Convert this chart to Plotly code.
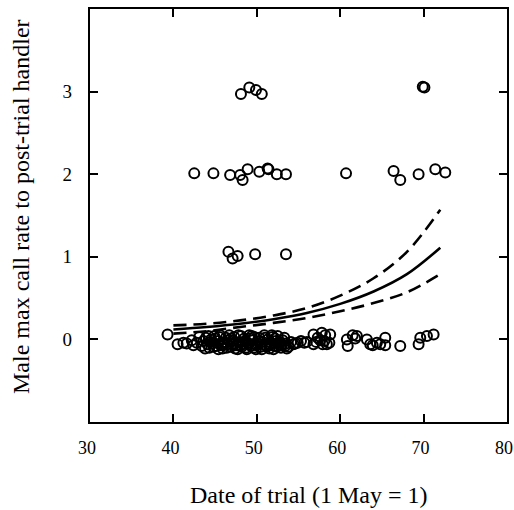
import plotly.graph_objects as go

# ---- data ----
# points near y = 3
x3 = [48.1, 49.1, 49.9, 50.6, 69.9, 70.1]
y3 = [2.97, 3.05, 3.02, 2.97, 3.06, 3.05]

# points near y = 2
x2 = [42.5, 44.8, 46.8, 48.0, 48.3, 48.9, 50.3, 51.3, 51.4, 52.4, 53.5,
      60.7, 66.4, 67.2, 69.4, 71.4, 72.6]
y2 = [2.01, 2.01, 1.99, 1.99, 1.93, 2.06, 2.03, 2.07, 2.06, 2.00, 2.00,
      2.01, 2.04, 1.93, 2.00, 2.06, 2.02]

# points near y = 1
x1 = [46.6, 47.1, 47.7, 49.8, 53.5]
y1 = [1.06, 0.98, 1.01, 1.03, 1.03]

# points near y = 0
x0 = [39.3, 40.5, 41.2, 41.6, 42.2, 42.4, 42.8, 43.1,
      43.4, 43.6, 43.9, 44.1, 44.3, 44.5, 44.7, 44.9, 45.1, 45.3, 45.5, 45.7,
      45.9, 46.1, 46.3, 46.5, 46.7, 46.9, 47.1, 47.3, 47.5, 47.7, 47.9, 48.1,
      48.3, 48.5, 48.7, 48.9, 49.1, 49.3, 49.5, 49.7, 49.9, 50.1, 50.3, 50.5,
      50.7, 50.9, 51.1, 51.3, 51.5, 51.7, 51.9, 52.1, 52.3, 52.5, 52.7, 52.9,
      53.1, 53.3, 53.5, 53.8, 54.1, 54.4,
      44.4, 45.0, 45.8, 46.6, 47.2, 48.0, 48.6, 49.2, 49.8, 50.4, 51.0, 51.6,
      52.2, 52.8, 53.4,
      43.8, 44.2, 44.8, 45.4, 45.6, 46.0, 46.4, 46.9, 47.4, 47.8, 48.2, 48.8,
      49.0, 49.4, 49.6, 50.0, 50.6, 51.2, 51.8, 52.0, 52.4, 52.6, 53.0, 53.6,
      54.6, 54.9, 55.3, 55.7, 56.0,
      56.8, 57.3, 57.8, 58.2, 58.8, 56.8, 57.9, 58.7, 57.6, 58.4, 58.1, 57.1,
      60.8, 60.9, 61.5, 61.8, 62.0,
      63.2, 63.6, 63.9, 64.4, 65.4, 65.4, 64.8,
      67.2, 69.4, 69.6, 70.4, 71.2]
y0 = [0.06, -0.06, -0.04, -0.05, -0.01, -0.07, -0.04, 0.03,
      -0.08, -0.02, 0.02, -0.06, -0.10, 0.00, -0.05, 0.04, -0.08, -0.02, 0.03, -0.07,
      -0.11, -0.03, 0.02, -0.06, 0.05, -0.09, -0.01, 0.03, -0.07, -0.12, -0.03, 0.04,
      -0.06, 0.01, -0.10, -0.04, 0.05, -0.08, -0.01, 0.03, -0.12, -0.05, 0.02, -0.09,
      -0.03, 0.05, -0.07, 0.00, -0.11, -0.04, 0.03, -0.08, -0.02, 0.04, -0.06, -0.10,
      -0.01, 0.02, -0.05, -0.09, -0.03, -0.06,
      -0.03, 0.01, -0.04, -0.01, -0.05, -0.08, -0.02, 0.01, -0.06, -0.02, 0.02, -0.06,
      0.01, -0.03, -0.08,
      -0.11, 0.04, -0.09, -0.12, 0.05, -0.07, -0.10, 0.01, -0.11, 0.05, -0.09, -0.12,
      -0.06, 0.04, -0.10, -0.07, -0.12, -0.09, 0.05, -0.12, -0.09, -0.04, -0.07, -0.11,
      -0.05, -0.04, -0.02, -0.04, -0.03,
      0.06, 0.02, 0.08, 0.05, 0.06, -0.06, -0.06, -0.04, -0.01, -0.06, -0.02, -0.03,
      0.00, -0.08, 0.05, 0.01, 0.04,
      0.00, -0.06, -0.07, -0.04, 0.02, -0.07, -0.06,
      -0.08, -0.06, 0.02, 0.04, 0.06]

# fitted curve and confidence limits
curve_x = [40, 44, 48, 52, 56, 60, 64, 68, 72]
fit_y = [0.12, 0.15, 0.19, 0.245, 0.32, 0.43, 0.58, 0.79, 1.11]
upper_y = [0.17, 0.19, 0.23, 0.29, 0.38, 0.53, 0.74, 1.06, 1.57]
lower_y = [0.07, 0.10, 0.15, 0.20, 0.26, 0.34, 0.44, 0.57, 0.79]

x_ticks = [30, 40, 50, 60, 70, 80]
y_ticks = [0, 1, 2, 3]

FONT = "Liberation Serif"
TITLE_SIZE = 24

fig = go.Figure()
marker = dict(symbol="circle-open", size=10, color="black", line=dict(width=2, color="black"))
for xs, ys in [(x0, y0), (x1, y1), (x2, y2), (x3, y3)]:
    fig.add_trace(go.Scatter(x=xs, y=ys, mode="markers", marker=marker, showlegend=False, hoverinfo="skip"))

fig.add_trace(go.Scatter(x=curve_x, y=upper_y, mode="lines", line=dict(color="black", width=2.6, dash="13px,7px", shape="spline"), showlegend=False))
fig.add_trace(go.Scatter(x=curve_x, y=lower_y, mode="lines", line=dict(color="black", width=2.6, dash="13px,7px", shape="spline"), showlegend=False))
fig.add_trace(go.Scatter(x=curve_x, y=fit_y, mode="lines", line=dict(color="black", width=2.6, shape="spline"), showlegend=False))

axis_common = dict(
    showline=True, linecolor="black", linewidth=2.2, mirror="ticks",
    ticks="inside", ticklen=8, tickwidth=1.5, tickcolor="black",
    showgrid=False, zeroline=False, automargin=False,
    ticklabeloverflow="allow",
)

fig.update_xaxes(range=[30, 80], tickvals=x_ticks, ticktext=[str(v) for v in x_ticks],
                 tickfont=dict(family=FONT, size=18, color="black"),
                 ticklabelstandoff=8, ticklabelshift=-3, **axis_common)
fig.update_yaxes(range=[-1, 4], tickvals=y_ticks, ticktext=[str(v) for v in y_ticks],
                 tickfont=dict(family=FONT, size=19, color="black"),
                 ticklabelstandoff=12, **axis_common)

fig.add_annotation(text="Date of trial (1 May = 1)", xref="paper", yref="paper",
                   x=0.523, y=-0.177, xanchor="center", yanchor="middle", showarrow=False,
                   font=dict(family=FONT, size=TITLE_SIZE, color="black"))
fig.add_annotation(text="Male max call rate to post-trial handler", xref="paper", yref="paper",
                   x=-0.1655, y=0.523, xanchor="center", yanchor="middle", showarrow=False,
                   textangle=-90, font=dict(family=FONT, size=TITLE_SIZE, color="black"))

fig.update_layout(
    width=514, height=510,
    margin=dict(l=90, r=7, t=9, b=88),
    paper_bgcolor="white", plot_bgcolor="white",
    font=dict(family=FONT, color="black"),
)

# remove the default page margin so the figure fills the 514x510 window exactly
fig.write_html("out.html", config={"displayModeBar": False},
               post_script="document.body.style.margin='0px';document.body.style.overflow='hidden';")
